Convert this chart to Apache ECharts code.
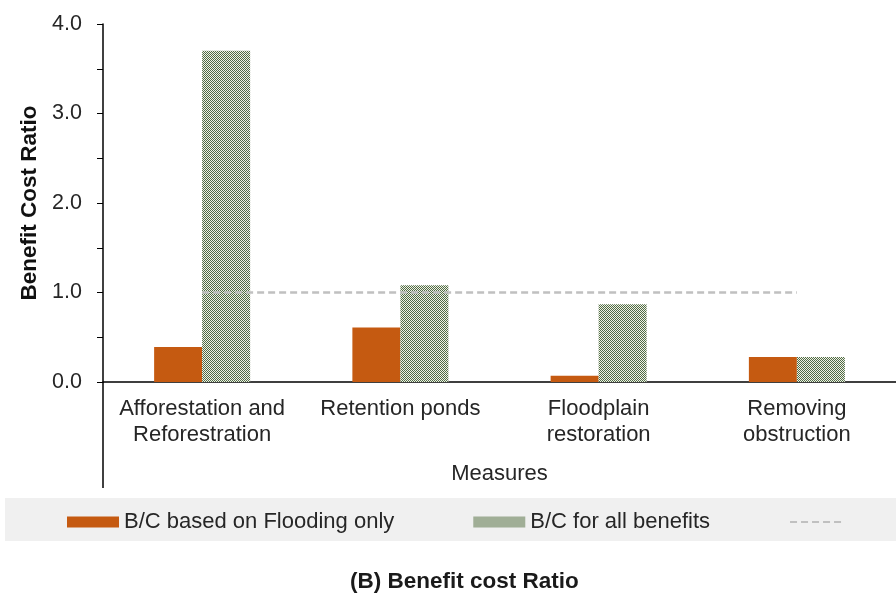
<!DOCTYPE html>
<html>
<head>
<meta charset="utf-8">
<script src="https://cdn.jsdelivr.net/npm/echarts@6/dist/echarts.min.js"></script>
<style>
html,body{margin:0;padding:0;background:#fff;}
#main{width:896px;height:593px;}
</style>
</head>
<body>
<div id="main"></div>
<script>
var categories = ['Afforestation and\nReforestration', 'Retention ponds', 'Floodplain\nrestoration', 'Removing\nobstruction'];
var floodingOnly = [0.39, 0.61, 0.07, 0.28];
var allBenefits = [3.70, 1.08, 0.87, 0.28];
var reference = [1.0, 1.0, 1.0, 1.0];
var seriesNames = ['B/C based on Flooding only', 'B/C for all benefits', ' '];
var chartTitle = '(B) Benefit cost Ratio';
var yName = 'Benefit Cost Ratio';
var xName = 'Measures';

var FONT = '"Liberation Sans", Arial, sans-serif';
var TXT = '#262626';

function makePattern() {
  var c = document.createElement('canvas');
  c.width = 4; c.height = 4;
  var ctx = c.getContext('2d');
  ctx.fillStyle = '#f1f3e6';
  ctx.fillRect(0, 0, 4, 4);
  ctx.fillStyle = '#4f6a47';
  var pts = [[0,0],[2,0],[1,1],[3,1],[0,2],[2,2],[1,3],[3,3]];
  pts.forEach(function(p){ ctx.fillRect(p[0], p[1], 1, 1); });
  return c;
}
var patternCanvas = makePattern();

var chart = echarts.init(document.getElementById('main'), null, { renderer: 'canvas' });
var option = {
  animation: false,
  backgroundColor: '#ffffff',
  textStyle: { fontFamily: FONT, color: TXT },
  title: {
    text: chartTitle,
    left: 345, top: 565,
    textStyle: { fontFamily: FONT, fontWeight: 'bold', fontSize: 22.5, color: '#1a1a1a' }
  },
  legend: {
    left: 62, top: 506,
    itemWidth: 52, itemHeight: 11, itemGap: 79,
    textStyle: { fontFamily: FONT, fontSize: 22, color: TXT },
    data: [
      { name: seriesNames[0], icon: 'rect' },
      { name: seriesNames[1], icon: 'rect', itemStyle: { color: { image: patternCanvas, repeat: 'repeat' } } },
      { name: seriesNames[2], itemStyle: { opacity: 0 } }
    ]
  },
  grid: { left: 103, right: 0, top: 24, bottom: 211, containLabel: false },
  xAxis: {
    type: 'category',
    data: categories,
    name: xName,
    nameLocation: 'middle',
    nameGap: 81,
    nameTextStyle: { fontFamily: FONT, fontSize: 22, color: TXT },
    axisLine: { lineStyle: { color: '#000', width: 1.5 } },
    axisTick: { show: false },
    axisLabel: { fontFamily: FONT, fontSize: 22, color: TXT, lineHeight: 26, margin: 14, interval: 0 }
  },
  yAxis: {
    type: 'value',
    min: 0, max: 4, interval: 1,
    name: yName,
    nameLocation: 'middle',
    nameGap: 51,
    nameTextStyle: { fontFamily: FONT, fontSize: 22.5, fontWeight: 'bold', color: '#111' },
    axisLine: { show: true, lineStyle: { color: '#000', width: 1.5 } },
    axisTick: { show: true, length: 6, lineStyle: { color: '#000', width: 1 } },
    minorTick: { show: true, splitNumber: 2, length: 6, lineStyle: { color: '#000', width: 1 } },
    splitLine: { show: false },
    axisLabel: { fontFamily: FONT, fontSize: 21.5, color: TXT, margin: 21, formatter: function(v){ return v.toFixed(1); } }
  },
  series: [
    { name: seriesNames[0], type: 'bar', data: floodingOnly, barWidth: 48, barGap: '0%', itemStyle: { color: '#c55a11' } },
    { name: seriesNames[1], type: 'bar', data: allBenefits, barWidth: 48, barGap: '0%', itemStyle: { color: { image: patternCanvas, repeat: 'repeat' } } },
    { name: seriesNames[2], type: 'line', data: reference, symbol: 'none', showSymbol: false, z: 5,
      lineStyle: { color: '#c0c0c0', width: 2.5, type: [7, 4] }, itemStyle: { color: '#c0c0c0' } }
  ]
};
chart.setOption(option);

var p0 = chart.convertToPixel({ gridIndex: 0 }, [0, 0]);
var axisX = 103;
chart.setOption({
  graphic: [
    { type: 'rect', z: -10, silent: true, shape: { x: 5, y: 498, width: 891, height: 43 }, style: { fill: '#f0f0f0' } },
    { type: 'line', z: 10, silent: true, shape: { x1: axisX, y1: p0[1], x2: axisX, y2: 488 }, style: { stroke: '#000', lineWidth: 1.5 } }
  ]
});
</script>
</body>
</html>
